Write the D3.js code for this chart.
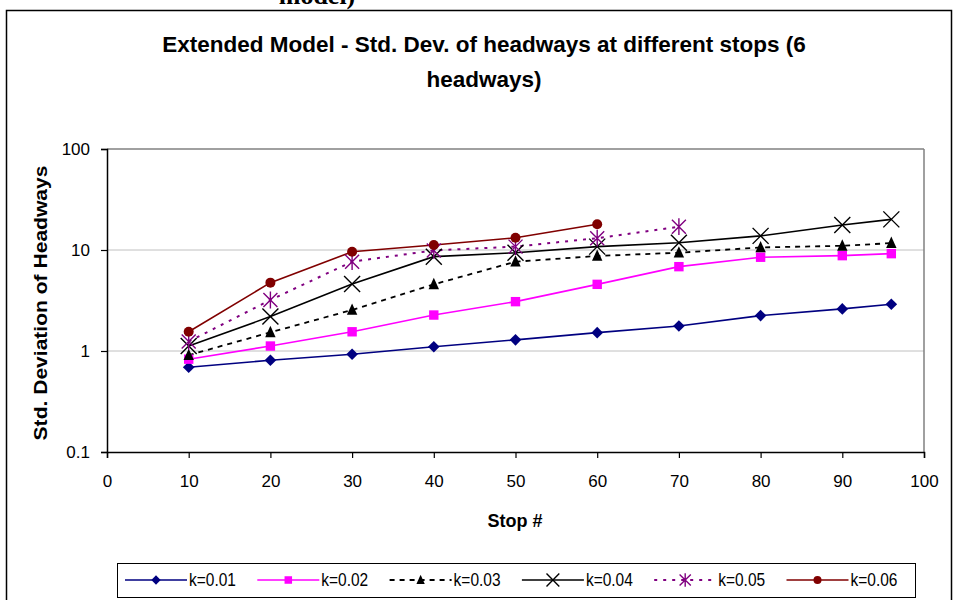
<!DOCTYPE html>
<html>
<head>
<meta charset="utf-8">
<script src="https://cdn.jsdelivr.net/npm/d3@7"></script>
<style>
  html, body { margin: 0; padding: 0; background: #fff; }
  svg { display: block; font-family: "Liberation Sans", Arial, sans-serif; }
</style>
</head>
<body>
<svg id="chart" width="960" height="600"></svg>
<script>
// ---- data ----
const titleLines = ["Extended Model - Std. Dev. of headways at different stops (6", "headways)"];
const xTitle = "Stop #";
const yTitle = "Std. Deviation of Headways";
const xTicks = [0, 10, 20, 30, 40, 50, 60, 70, 80, 90, 100];
const yTicks = [0.1, 1, 10, 100];
const yTickLabels = ["0.1", "1", "10", "100"];

const stops = [10, 20, 30, 40, 50, 60, 70, 80, 90, 96];
const k001 = [0.69, 0.81, 0.93, 1.10, 1.29, 1.52, 1.77, 2.24, 2.61, 2.90];
const k002 = [0.83, 1.12, 1.55, 2.27, 3.08, 4.57, 6.84, 8.48, 8.79, 9.2];
const k003 = [0.91, 1.53, 2.55, 4.57, 7.66, 8.73, 9.4, 10.6, 11.0, 11.7];
const k004 = [1.12, 2.19, 4.61, 8.59, 9.4, 10.8, 11.8, 13.8, 17.7, 20.1];
const k005 = [1.24, 3.2, 7.66, 9.9, 10.8, 13.1, 17.0];
const k006 = [1.55, 4.75, 9.6, 11.2, 13.2, 18.0];
const seriesNames = ["k=0.01", "k=0.02", "k=0.03", "k=0.04", "k=0.05", "k=0.06"];

// ---- styles ----
const series = [
  {name: seriesNames[0], values: k001, color: "#000080", dash: null, width: 1.6, marker: "diamond"},
  {name: seriesNames[1], values: k002, color: "#FF00FF", dash: null, width: 1.6, marker: "square"},
  {name: seriesNames[2], values: k003, color: "#000000", dash: "5,5", width: 1.8, marker: "triangle"},
  {name: seriesNames[3], values: k004, color: "#000000", dash: null, width: 1.6, marker: "x"},
  {name: seriesNames[4], values: k005, color: "#800080", dash: "3,6", width: 2, marker: "asterisk"},
  {name: seriesNames[5], values: k006, color: "#800000", dash: null, width: 1.6, marker: "circle"}
];

const svg = d3.select("#chart");
const plot = {left: 107, top: 149, right: 924, bottom: 452};

// outer frame
svg.append("rect").attr("x", 6.5).attr("y", 10.5).attr("width", 945).attr("height", 620)
  .attr("fill", "none").attr("stroke", "#000").attr("stroke-width", 1.5);

// cut-off text above frame (cut off in the reference too)
svg.append("text").attr("x", 317).attr("y", 4).attr("text-anchor", "middle")
  .style("font-family", "'Liberation Serif', 'Times New Roman', serif")
  .style("font-weight", "bold").style("font-size", "26px").text("model)");

const x = d3.scaleLinear().domain([0, 100]).range([plot.left, plot.right]);
const y = d3.scaleLog().domain([0.1, 100]).range([plot.bottom, plot.top]);

// gridlines
svg.append("g").selectAll("line").data(yTicks.slice(1)).join("line")
  .attr("x1", plot.left).attr("x2", plot.right)
  .attr("y1", d => y(d)).attr("y2", d => y(d))
  .attr("stroke", d => d === 100 ? "#808080" : "#c0c0c0")
  .attr("stroke-width", d => d === 100 ? 1.5 : 1);
// right border of plot
svg.append("line").attr("x1", plot.right).attr("x2", plot.right)
  .attr("y1", plot.top).attr("y2", plot.bottom).attr("stroke", "#808080").attr("stroke-width", 1.5);

// axes
const xAxis = d3.axisBottom(x).tickValues(xTicks).tickSize(6).tickPadding(17);
const gx = svg.append("g").attr("transform", `translate(0,${plot.bottom})`).call(xAxis);
const yAxis = d3.axisLeft(y).tickValues(yTicks).tickFormat((d, i) => yTickLabels[i]).tickSize(6).tickPadding(11);
const gy = svg.append("g").attr("transform", `translate(${plot.left},0)`).call(yAxis);
[gx, gy].forEach(g => {
  g.select(".domain").attr("stroke", "#000").attr("stroke-width", 1.5);
  g.selectAll(".tick line").attr("stroke", "#000").attr("stroke-width", 1.2);
  g.selectAll(".tick text").attr("fill", "#000")
    .style("font-family", "'Liberation Sans', Arial, sans-serif").style("font-size", "17px");
});
gy.selectAll(".tick text").attr("dy", "0.35em");

// titles
svg.append("g").selectAll("text").data(titleLines).join("text")
  .attr("x", 484).attr("y", (d, i) => 52 + i * 35).attr("text-anchor", "middle")
  .style("font-weight", "bold").style("font-size", "22.5px").text(d => d);
svg.append("text").attr("x", 515).attr("y", 527).attr("text-anchor", "middle")
  .style("font-weight", "bold").style("font-size", "18px").text(xTitle);
svg.append("text").attr("transform", "translate(47,303) rotate(-90) scale(1.17,1)").attr("text-anchor", "middle")
  .style("font-weight", "bold").style("font-size", "18px").text(yTitle);

// markers
function drawMarker(g, type, color, cx, cy, scale) {
  const s = scale || 1;
  if (type === "diamond") {
    const r = 5.8 * s;
    g.append("path").attr("d", `M${cx},${cy - r}L${cx + r},${cy}L${cx},${cy + r}L${cx - r},${cy}Z`).attr("fill", color);
  } else if (type === "square") {
    const r = 4.7 * s;
    g.append("rect").attr("x", cx - r).attr("y", cy - r).attr("width", 2 * r).attr("height", 2 * r).attr("fill", color);
  } else if (type === "triangle") {
    const r = 6.5 * s;
    g.append("path").attr("d", `M${cx},${cy - r}L${cx + r * 0.8},${cy + r * 0.75}L${cx - r * 0.8},${cy + r * 0.75}Z`).attr("fill", color);
  } else if (type === "x") {
    const r = 8 * s;
    g.append("path").attr("d", `M${cx - r},${cy - r}L${cx + r},${cy + r}M${cx - r},${cy + r}L${cx + r},${cy - r}`)
      .attr("stroke", color).attr("stroke-width", 1.4).attr("fill", "none");
  } else if (type === "asterisk") {
    const r = 7 * s;
    g.append("path").attr("d", `M${cx - r},${cy - r}L${cx + r},${cy + r}M${cx - r},${cy + r}L${cx + r},${cy - r}M${cx},${cy - r * 1.2}L${cx},${cy + r * 1.2}`)
      .attr("stroke", color).attr("stroke-width", 1.4).attr("fill", "none");
  } else if (type === "circle") {
    g.append("circle").attr("cx", cx).attr("cy", cy).attr("r", 5 * s).attr("fill", color);
  }
}

const line = d3.line().x(d => x(d[0])).y(d => y(d[1]));
const gSeries = svg.append("g");
series.forEach(s => {
  const pts = s.values.map((v, i) => [stops[i], v]);
  gSeries.append("path").datum(pts).attr("d", line)
    .attr("fill", "none").attr("stroke", s.color).attr("stroke-width", s.width)
    .attr("stroke-dasharray", s.dash);
});
series.forEach(s => {
  const g = gSeries.append("g");
  s.values.forEach((v, i) => drawMarker(g, s.marker, s.color, x(stops[i]), y(v)));
});

// legend
const lg = svg.append("g");
lg.append("rect").attr("x", 117.5).attr("y", 563.5).attr("width", 798).attr("height", 34)
  .attr("fill", "#fff").attr("stroke", "#000").attr("stroke-width", 1);
series.forEach((s, i) => {
  const x0 = 125 + i * 132.3;
  const cy = 580;
  lg.append("line").attr("x1", x0).attr("x2", x0 + 62).attr("y1", cy).attr("y2", cy)
    .attr("stroke", s.color).attr("stroke-width", s.width).attr("stroke-dasharray", s.dash);
  const g = lg.append("g");
  drawMarker(g, s.marker, s.color, x0 + 31, cy, 0.8);
  lg.append("text").attr("x", x0 + 64).attr("y", cy).attr("dy", "0.35em")
    .attr("transform", `translate(0,${cy}) scale(1,1.15) translate(0,${-cy})`)
    .style("font-size", "15.5px").text(s.name);
});
</script>
</body>
</html>
